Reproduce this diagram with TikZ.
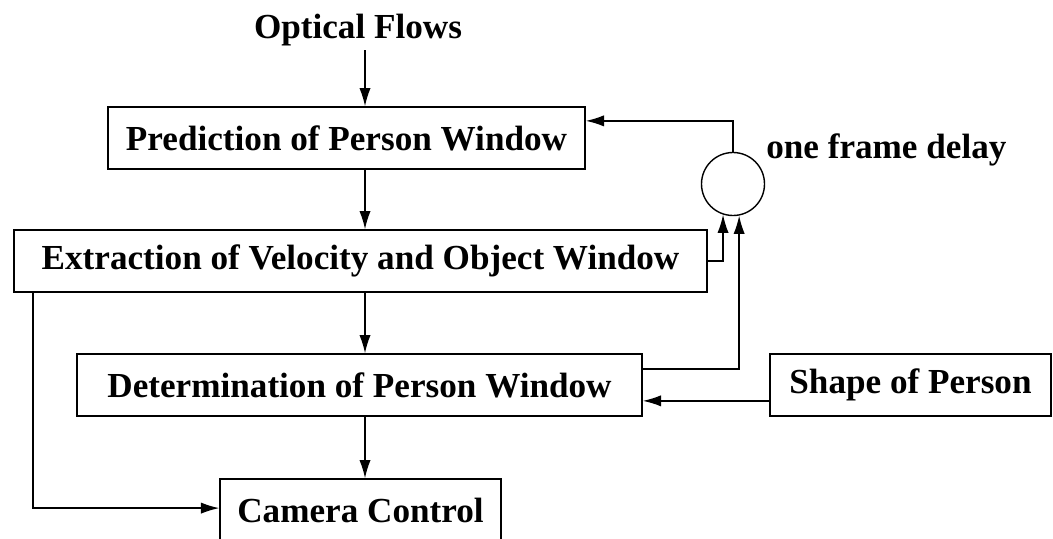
\documentclass[tikz,border=0pt]{standalone}
\usepackage{fontspec}
\setmainfont{Liberation Serif}
\usetikzlibrary{arrows.meta,calc}

\begin{document}
\begin{tikzpicture}[x=0.025cm, y=-0.025cm,
  box/.style={rectangle, draw, line width=1pt, inner sep=0pt, minimum height=1.55cm, font=\fontsize{25}{30}\selectfont\bfseries},
  lbl/.style={inner sep=0pt, font=\fontsize{25}{30}\selectfont\bfseries},
  flow/.style={line width=1pt, -{Latex[length=13pt,width=8pt]}}]

\useasboundingbox (0,0) rectangle (1053,539);

\draw (358,30) node (flows) [lbl] {Optical Flows};

\draw (346.5,138) node (pred) [box, minimum width=11.925cm] {Prediction of Person Window};
\draw (360.5,261) node (extr) [box, minimum width=17.325cm] {Extraction of Velocity and Object Window};
\draw (359.5,385) node (det) [box, minimum width=14.125cm] {Determination of Person Window};
\draw (910.5,385) node (shape) [box, minimum width=7.025cm] {Shape of Person};
\draw (360.5,510) node (cam) [box, minimum width=7.025cm] {Camera Control};

\draw (733,184) node (delay) [circle, draw, line width=1pt, minimum size=1.575cm] {};
\draw (766,150) node (delaylbl) [lbl, anchor=west] {one frame delay};

\coordinate (spine) at (365,0);
\coordinate (leftx) at (33,0);

\draw [flow] ($(flows.south -| spine)+(0,4)$) -- (pred.north -| spine);
\draw [flow] (pred.south -| spine) -- (extr.north -| spine);
\draw [flow] (extr.south -| spine) -- (det.north -| spine);
\draw [flow] (det.south -| spine) -- (cam.north -| spine);

\draw [flow] (delay.north) |- ($(pred.north east)!0.23!(pred.south east)$);
\draw [flow] (extr.east) -| (delay.-108);
\draw [flow] ($(det.north east)!0.25!(det.south east)$) -| (delay.-79);

\path ($(shape.north west)!0.75!(shape.south west)$) coordinate (s);
\draw [flow] (s) -- (det.east |- s);

\draw [flow] (extr.south -| leftx) |- ($(cam.north west)!0.47!(cam.south west)$);

\end{tikzpicture}
\end{document}
